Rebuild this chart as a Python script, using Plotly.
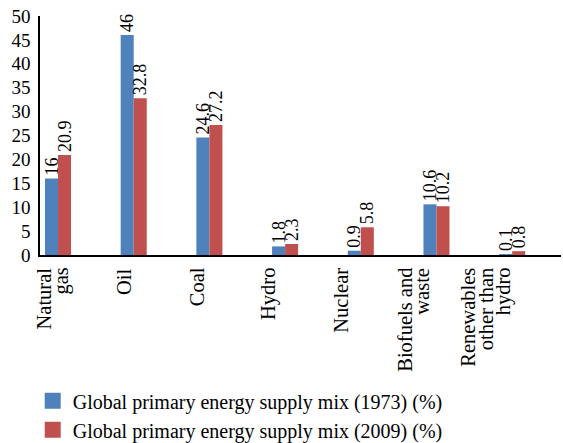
import plotly.graph_objects as go

categories = ["Natural<br>gas", "Oil", "Coal", "Hydro", "Nuclear", "Biofuels and<br>waste", "Renewables<br>other than<br>hydro"]
values_1973 = [16, 46, 24.6, 1.8, 0.9, 10.6, 0.1]
values_2009 = [20.9, 32.8, 27.2, 2.3, 5.8, 10.2, 0.8]
labels_1973 = ["16", "46", "24.6", "1.8", "0.9", "10.6", "0.1"]
labels_2009 = ["20.9", "32.8", "27.2", "2.3", "5.8", "10.2", "0.8"]
y_ticks = [0, 5, 10, 15, 20, 25, 30, 35, 40, 45, 50]
series_names = ["Global primary energy supply mix (1973) (%)", "Global primary energy supply mix (2009) (%)"]
colors = ["#4F81BD", "#C0504D"]

FONT = "Liberation Serif"
xs = list(range(len(categories)))
bw = 0.172

fig = go.Figure()
for vals, labs, off, col in [(values_1973, labels_1973, -bw, colors[0]), (values_2009, labels_2009, 0, colors[1])]:
    fig.add_trace(go.Bar(
        x=xs, y=vals, showlegend=False,
        marker=dict(color=col, line=dict(width=0)), width=bw, offset=off,
        text=labs, textposition="outside", textangle=-90, constraintext="none",
        textfont=dict(family=FONT, size=18, color="#000"), cliponaxis=False,
    ))
# legend proxies (square swatches)
for name, col in zip(series_names, colors):
    fig.add_trace(go.Scatter(
        x=[None], y=[None], mode="markers", name=name,
        marker=dict(symbol="square", size=16, color=col),
    ))

# category labels drawn per line for tight line spacing
annotations = []
for i, cat in enumerate(categories):
    lines = cat.split("<br>")
    n = len(lines)
    for j, line in enumerate(lines):
        annotations.append(dict(
            text=line, xref="x2", yref="paper", x=i, y=-0.045,
            xshift=(j - (n - 1) / 2) * 17.5, xanchor="center", yanchor="top",
            textangle=-90, showarrow=False,
            font=dict(family=FONT, size=20.5, color="#000"),
        ))

fig.update_layout(
    width=563, height=443,
    margin=dict(l=40, r=2, t=16, b=188, autoexpand=False),
    paper_bgcolor="white", plot_bgcolor="white",
    font=dict(family=FONT, size=19, color="#000"),
    showlegend=True,
    legend=dict(orientation="v", x=-0.014, xanchor="left", y=-0.528, yanchor="top",
                font=dict(family=FONT, size=20, color="#000"), traceorder="normal",
                bgcolor="rgba(0,0,0,0)", itemwidth=30),
    annotations=annotations,
    xaxis2=dict(overlaying="x", range=[-0.173, 7.038], visible=False),
)
fig.update_layout(xaxis=dict(
    tickvals=xs, ticktext=["" for _ in categories],
    range=[-0.238, 6.645], showline=True, linecolor="#000", linewidth=1.5,
    ticks="", showgrid=False, zeroline=False,
))
fig.update_yaxes(
    range=[0, 50], tickvals=y_ticks, showline=True, linecolor="#000", linewidth=1.5,
    ticks="", showgrid=False, zeroline=False, ticklabelstandoff=4,
    tickfont=dict(family=FONT, size=19),
)

fig.write_html("out.html")
